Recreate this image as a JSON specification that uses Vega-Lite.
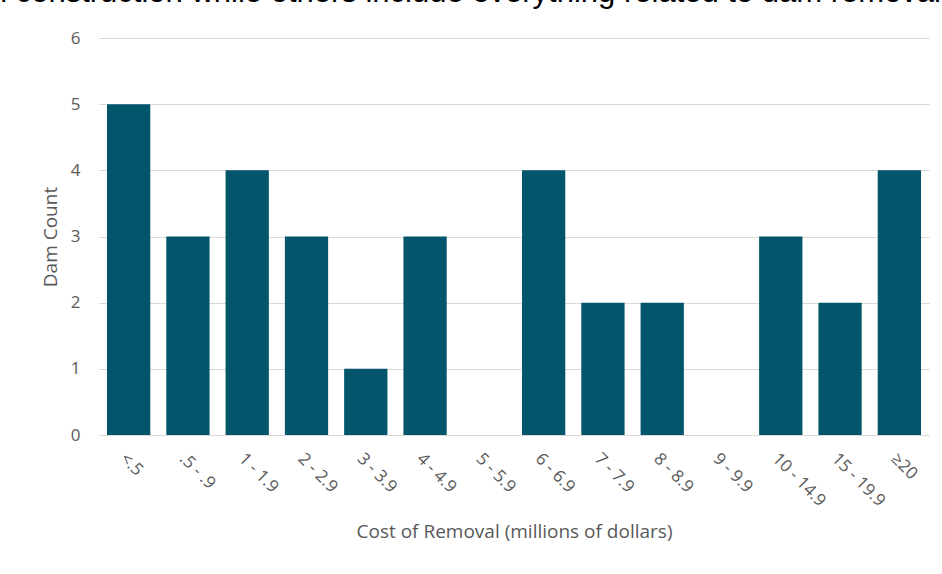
{
  "$schema": "https://vega.github.io/schema/vega-lite/v6.json",
  "width": 830,
  "height": 397,
  "autosize": {"type": "none"},
  "padding": {"left": 99, "top": 38, "right": 13, "bottom": 139},
  "background": "white",
  "title": {
    "text": "l construction while others include everything related to dam removal",
    "anchor": "end",
    "orient": "top",
    "font": "Liberation Sans",
    "fontSize": 31,
    "fontWeight": "normal",
    "color": "#000000",
    "baseline": "bottom",
    "offset": -11,
    "dx": 12
  },
  "data": {
    "values": [
      {"cost": "<.5", "count": 5},
      {"cost": ".5 - .9", "count": 3},
      {"cost": "1 - 1.9", "count": 4},
      {"cost": "2 - 2.9", "count": 3},
      {"cost": "3 - 3.9", "count": 1},
      {"cost": "4 - 4.9", "count": 3},
      {"cost": "5 - 5.9", "count": 0},
      {"cost": "6 - 6.9", "count": 4},
      {"cost": "7 - 7.9", "count": 2},
      {"cost": "8 - 8.9", "count": 2},
      {"cost": "9 - 9.9", "count": 0},
      {"cost": "10 - 14.9", "count": 3},
      {"cost": "15 - 19.9", "count": 2},
      {"cost": "≥20", "count": 4}
    ]
  },
  "mark": {"type": "bar", "color": "#02556a"},
  "encoding": {
    "x": {
      "field": "cost",
      "type": "nominal",
      "sort": null,
      "scale": {"paddingInner": 0.27, "paddingOuter": 0.135},
      "axis": {
        "title": "Cost of Removal (millions of dollars)",
        "labelAngle": 45,
        "labelAlign": "left",
        "labelBaseline": "top",
        "labelPadding": 15,
        "labelFont": "Open Sans",
        "labelFontSize": 17,
        "labelColor": "#595959",
        "ticks": false,
        "domainColor": "#d9d9d9",
        "titleFont": "Open Sans",
        "titleFontSize": 19,
        "titleFontWeight": "normal",
        "titleColor": "#595959",
        "titlePadding": 14
      }
    },
    "y": {
      "field": "count",
      "type": "quantitative",
      "scale": {"domain": [0, 6]},
      "axis": {
        "title": "Dam Count",
        "values": [0, 1, 2, 3, 4, 5, 6],
        "grid": true,
        "gridColor": "#d9d9d9",
        "domain": false,
        "ticks": false,
        "labelPadding": 19,
        "labelFont": "Open Sans",
        "labelFontSize": 17,
        "labelColor": "#595959",
        "titleFont": "Open Sans",
        "titleFontSize": 19,
        "titleFontWeight": "normal",
        "titleColor": "#595959",
        "titlePadding": 10
      }
    }
  },
  "config": {"view": {"stroke": null}}
}
